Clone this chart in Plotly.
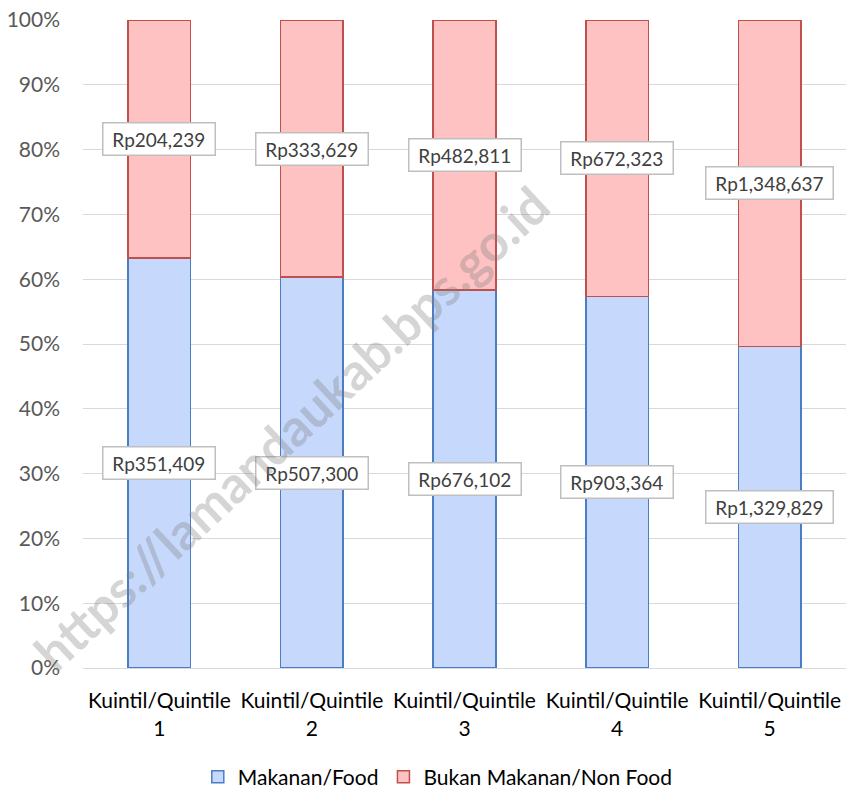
import plotly.graph_objects as go

categories = ["Kuintil/Quintile<br>1", "Kuintil/Quintile<br>2", "Kuintil/Quintile<br>3",
              "Kuintil/Quintile<br>4", "Kuintil/Quintile<br>5"]
food = [351409, 507300, 676102, 903364, 1329829]
nonfood = [204239, 333629, 482811, 672323, 1348637]
series_names = ["Makanan/Food", "Bukan Makanan/Non Food"]

FONT = "Lato"

fig = go.Figure()
fig.add_trace(go.Bar(x=categories, y=food, name=series_names[0],
                     marker=dict(color="#c6d8fb", line=dict(color="#4a7ec4", width=1.5)),
                     width=0.41, hoverinfo="skip"))
fig.add_trace(go.Bar(x=categories, y=nonfood, name=series_names[1],
                     marker=dict(color="#ffc2c2", line=dict(color="#c0504d", width=1.5)),
                     width=0.41, hoverinfo="skip"))

annotations = []
for c, f, n in zip(categories, food, nonfood):
    tot = f + n
    pf = f / tot * 100
    for val, ymid in ((f, pf / 2), (n, pf + (100 - pf) / 2)):
        annotations.append(dict(x=c, y=ymid, xref="x", yref="y", text=f" Rp{val:,} ",
                                showarrow=False, font=dict(family=FONT, size=19, color="#404040"),
                                bgcolor="white", bordercolor="#bfbfbf", borderwidth=1.5,
                                borderpad=4))

annotations.append(dict(x=0.272, y=0.37, xref="paper", yref="paper",
                        xanchor="center", yanchor="middle",
                        text="<b>https://lamandaukab.bps.go.id</b>", textangle=-43,
                        showarrow=False, font=dict(family=FONT, size=51,
                                                   color="rgba(128,128,128,0.33)")))

fig.update_layout(
    barmode="stack", barnorm="percent",
    width=846, height=793,
    margin=dict(l=83, r=0, t=20, b=125),
    paper_bgcolor="white", plot_bgcolor="white",
    font=dict(family=FONT, size=21, color="#000000"),
    showlegend=True,
    legend=dict(orientation="h", x=0.465, xanchor="center",
                yref="container", y=0.02, yanchor="middle",
                traceorder="normal",
                font=dict(family=FONT, size=21, color="#000000"), itemwidth=30),
    annotations=annotations,
)
fig.update_yaxes(range=[0, 100], dtick=10, ticksuffix="%", showgrid=True,
                 gridcolor="#d9d9d9", gridwidth=1.3, zeroline=False,
                 tickfont=dict(family=FONT, size=21, color="#595959"),
                 ticklabelstandoff=22, showline=False, automargin=False)
fig.update_xaxes(tickfont=dict(family=FONT, size=21, color="#000000"), showline=True,
                 linecolor="#d9d9d9", linewidth=1.3, ticks="", ticklabelstandoff=14,
                 automargin=False)

fig.write_html("out.html")
